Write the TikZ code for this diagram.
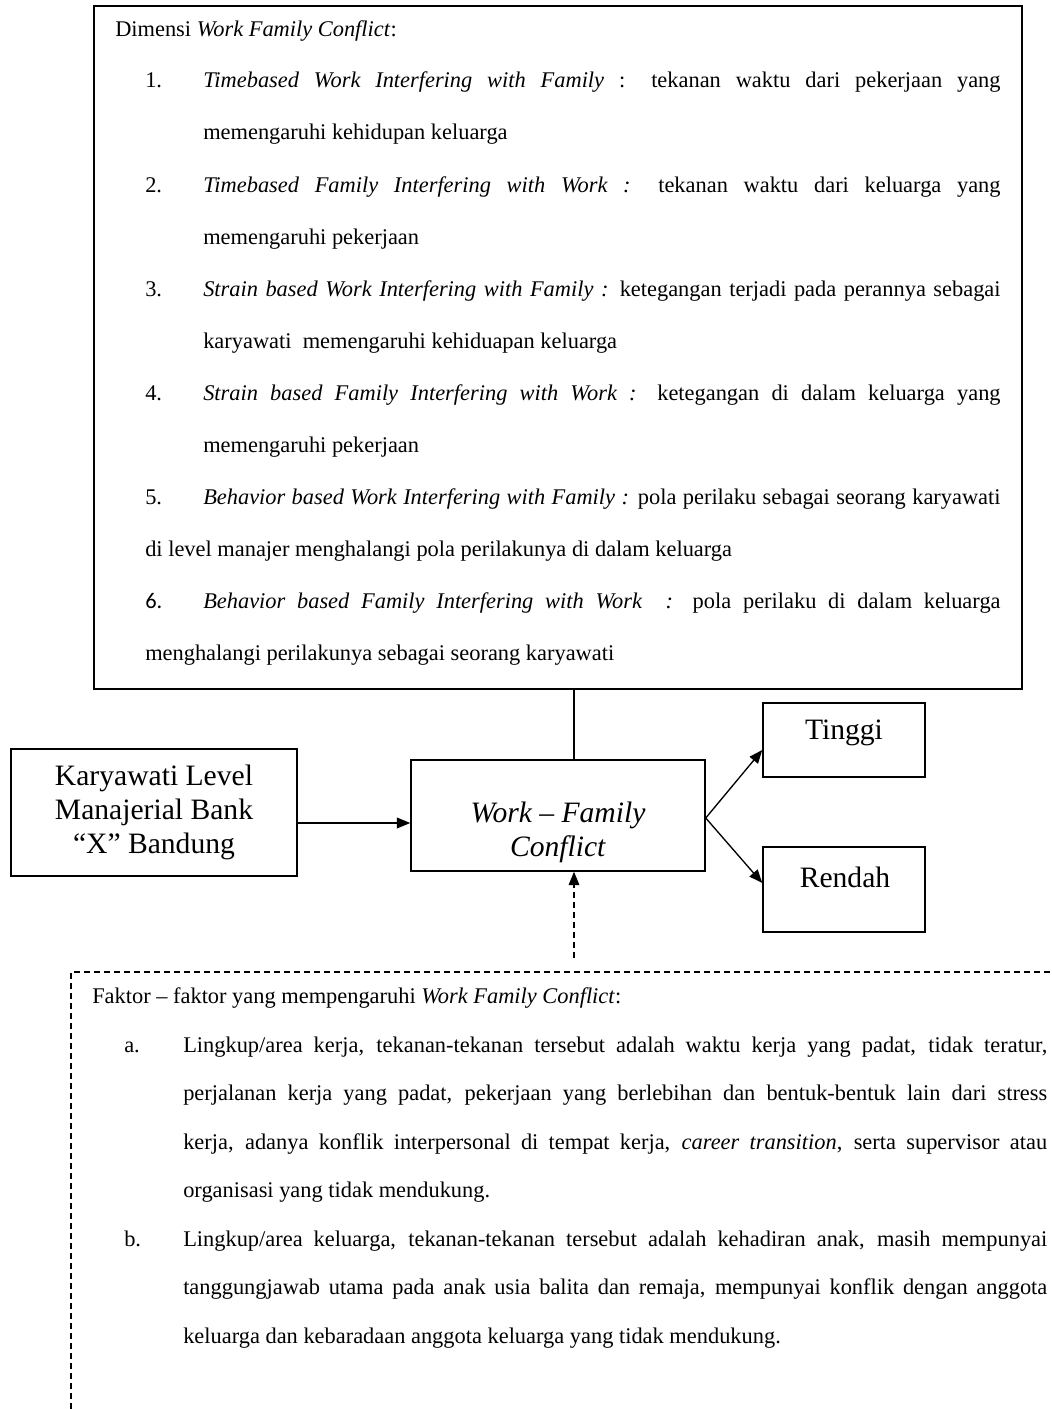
\documentclass[tikz,border=0pt]{standalone}
\usepackage{fontspec}
\setmainfont{Liberation Serif}
\newfontfamily\condfont{Liberation Serif}
\newfontfamily\numsans{Carlito}
\usetikzlibrary{arrows.meta,calc}
\newcommand{\jline}[2]{\makebox[#1][s]{#2}}
\tikzset{
  frame/.style={draw, line width=1.1pt, inner sep=0pt},
  txt/.style={anchor=base west, inner sep=0pt, font=\condfont\fontsize{16.8}{18}\selectfont},
  bigtxt/.style={inner sep=0pt, align=center, font=\fontsize{22.2}{25.5}\selectfont},
  arr/.style={line width=1pt, -{Triangle[length=10pt,width=8pt]}},
  dsh/.style={line width=0.8pt, dash pattern=on 4.5pt off 3pt},
}
\begin{document}
\begin{tikzpicture}[x=0.75pt,y=-0.75pt]
\clip (0,0) rectangle (1052,1409);
\fill[white] (0,0) rectangle (1052,1409);

% top box
\node[frame, minimum width=696pt, minimum height=512.25pt] (dim) at (558,347.5) {};
\node[txt] (t0) at (115,37) {Dimensi \textit{Work Family Conflict}:};

\node[txt] (n1) at (145,88) {1.};
\node[txt] (t1a) at (203,88) {\jline{598pt}{\textit{Timebased Work Interfering with Family} : tekanan waktu dari pekerjaan yang}};
\node[txt] (t1b) at (203,140) {memengaruhi kehidupan keluarga};

\node[txt] (n2) at (145,192) {2.};
\node[txt] (t2a) at (203,192) {\jline{598pt}{\textit{Timebased Family Interfering with Work :} tekanan waktu dari keluarga yang}};
\node[txt] (t2b) at (203,244) {memengaruhi pekerjaan};

\node[txt] (n3) at (145,296) {3.};
\node[txt] (t3a) at (203,296) {\jline{598pt}{\textit{Strain based Work Interfering with Family :} ketegangan terjadi pada perannya sebagai}};
\node[txt] (t3b) at (203,348) {karyawati\ \ memengaruhi kehiduapan keluarga};

\node[txt] (n4) at (145,400) {4.};
\node[txt] (t4a) at (203,400) {\jline{598pt}{\textit{Strain based Family Interfering with Work :} ketegangan di dalam keluarga yang}};
\node[txt] (t4b) at (203,452) {memengaruhi pekerjaan};

\node[txt] (n5) at (145,504) {5.};
\node[txt] (t5a) at (203,504) {\jline{598pt}{\textit{Behavior based Work Interfering with Family :} pola perilaku sebagai seorang karyawati}};
\node[txt] (t5b) at (145,556) {di level manajer menghalangi pola perilakunya di dalam keluarga};

\node[txt, font=\numsans\fontsize{16.8}{18}\selectfont] (n6) at (145,608) {6.};
\node[txt] (t6a) at (203,608) {\jline{598pt}{\textit{Behavior based Family Interfering with Work\ \ :} pola perilaku di dalam keluarga}};
\node[txt] (t6b) at (145,660) {menghalangi perilakunya sebagai seorang karyawati};

% middle boxes
\node[frame, bigtxt, minimum width=214.5pt, minimum height=95.25pt] (kar) at (154,812.5) {Karyawati Level\\Manajerial Bank\\“X” Bandung};
\node[frame, minimum width=220.5pt, minimum height=83.25pt] (wfc) at (558,815.5) {};
\node[bigtxt] (wfctxt) at (558,832) {\textit{Work – Family}\\\textit{Conflict}};
\node[frame, minimum width=121.5pt, minimum height=55.5pt] (ting) at (844,740) {};
\node[bigtxt] (tingtxt) at (844,733) {Tinggi};
\node[frame, minimum width=121.5pt, minimum height=63.75pt] (rend) at (844,889.5) {};
\node[bigtxt] (rendtxt) at (845,877) {Rendah};

\coordinate (fk) at (574,958);
\draw[line width=1pt] (dim.south -| fk) -- (wfc.north -| fk);
\draw[arr] ($(kar.east)+(0,10.5)$) -- ($(wfc.west)+(0,7.5)$);
\draw[arr] ($(wfc.east)+(0,2.5)$) -- ($(ting.west)+(0,10)$);
\draw[arr] ($(wfc.east)+(0,2.5)$) -- ($(rend.west)+(0,-6.5)$);
\draw[arr, dsh] (fk) -- (wfc.south -| fk);

% bottom dashed box
\draw[dsh] (1070,972) -- (71,972) -- (71,1420);
\node[txt] (f0) at (92,1003) {Faktor – faktor yang mempengaruhi \textit{Work Family Conflict}:};

\node[txt] (na) at (124,1052) {a.};
\node[txt] (fa1) at (183,1052) {\jline{648pt}{Lingkup/area kerja, tekanan-tekanan tersebut adalah waktu kerja yang padat, tidak teratur,}};
\node[txt] (fa2) at (183,1100) {\jline{648pt}{perjalanan kerja yang padat, pekerjaan yang berlebihan dan bentuk-bentuk lain dari stress}};
\node[txt] (fa3) at (183,1149) {\jline{648pt}{kerja, adanya konflik interpersonal di tempat kerja, \textit{career transition}, serta supervisor atau}};
\node[txt] (fa4) at (183,1197) {organisasi yang tidak mendukung.};

\node[txt] (nb) at (124,1246) {b.};
\node[txt] (fb1) at (183,1246) {\jline{648pt}{Lingkup/area keluarga, tekanan-tekanan tersebut adalah kehadiran anak, masih mempunyai}};
\node[txt] (fb2) at (183,1294) {\jline{648pt}{tanggungjawab utama pada anak usia balita dan remaja, mempunyai konflik dengan anggota}};
\node[txt] (fb3) at (183,1343) {keluarga dan kebaradaan anggota keluarga yang tidak mendukung.};
\end{tikzpicture}
\end{document}
